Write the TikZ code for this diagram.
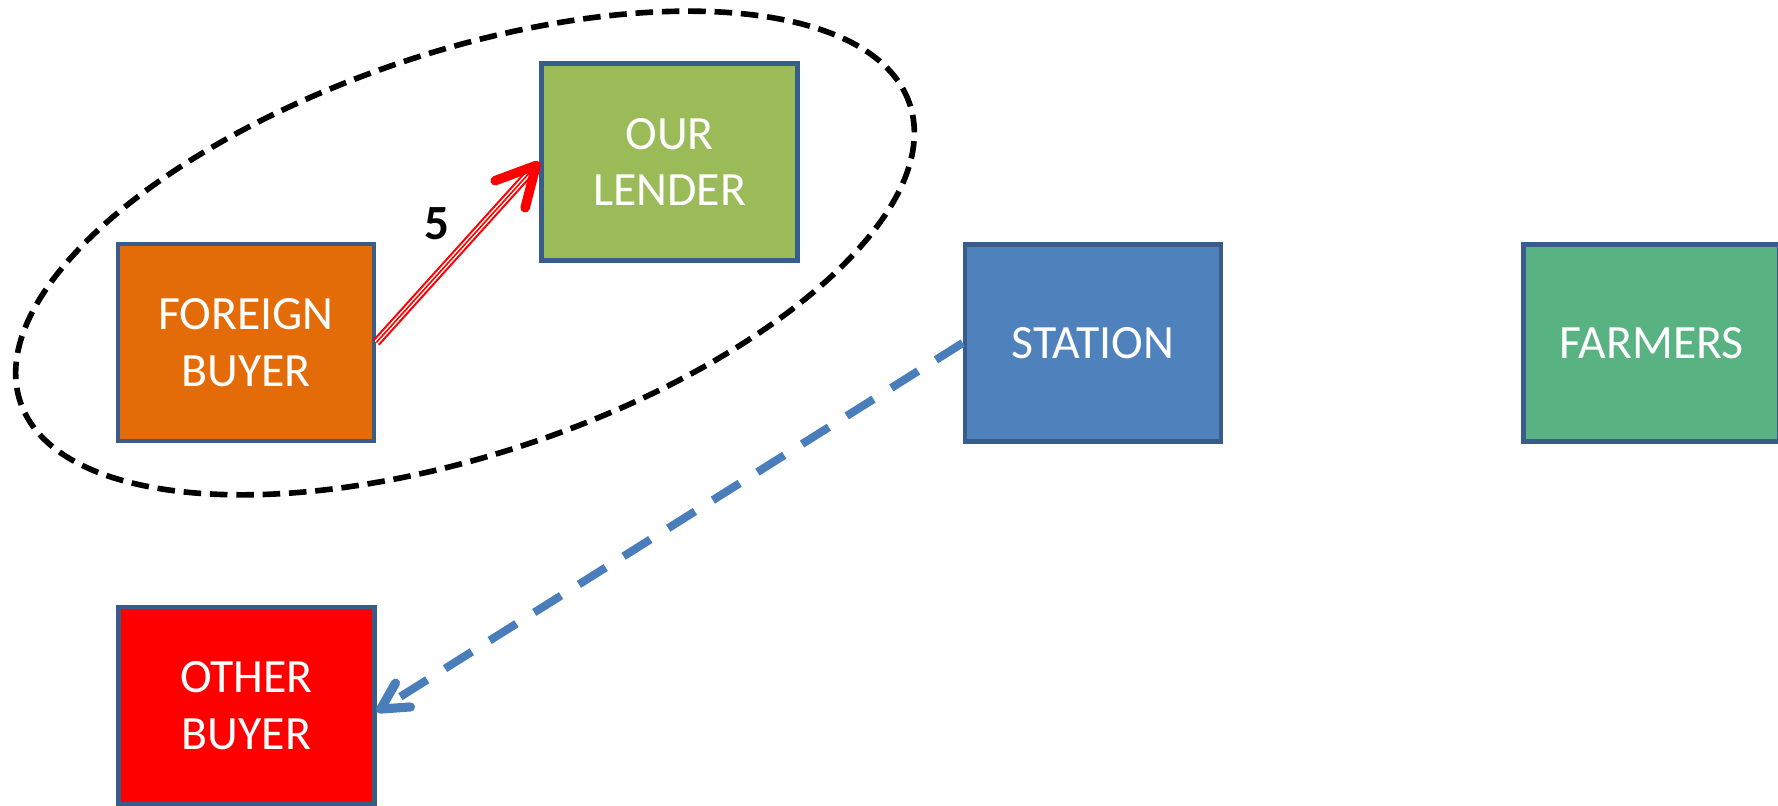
\documentclass[tikz,border=0pt]{standalone}
\usepackage{fontspec}
\setmainfont{Carlito}
\usepackage{tikz}
\usetikzlibrary{arrows.meta}
\usetikzlibrary{calc}
\definecolor{edgeblue}{HTML}{385D8A}
\definecolor{buyerorange}{HTML}{E36C09}
\definecolor{lendergreen}{HTML}{9BBB59}
\definecolor{stationblue}{HTML}{4F81BD}
\definecolor{farmgreen}{HTML}{58B282}
\definecolor{flowblue}{HTML}{4A7EBB}

\begin{document}
\begin{tikzpicture}[
    box/.style={draw=edgeblue,line width=1.3pt,minimum width=2.56cm,minimum height=1.97cm,
        text=white,align=center,font=\fontsize{13.6}{16.2}\selectfont},
    lbl/.style={font=\fontsize{14}{16}\selectfont\bfseries}]
            \useasboundingbox (0,0) rectangle (17.78,8.05);
            \clip (0,0) rectangle (17.78,8.05);
            \node[box,fill=buyerorange] (FB) at (2.46,4.625) {FOREIGN\\BUYER};
            \node[box,fill=lendergreen] (OL) at (6.695,6.43) {OUR\\LENDER};
            \node[box,fill=stationblue] (ST) at (10.93,4.62) {STATION};
            \node[box,fill=farmgreen] (FA) at (16.515,4.62) {FARMERS};
            \node[box,fill=red] (OB) at (2.465,0.995) {OTHER\\BUYER};
            \draw[black,line width=1.6pt,dash pattern=on 5pt off 2.5pt] (4.65,5.52) ellipse[x radius=4.69,y radius=2.01,rotate=18.5];
            \draw[red,line width=0.6pt,double=white,double distance=1.3pt,shorten >=3pt] (FB.east) -- (OL.west);
            \draw[red,line width=0.45pt,-{Straight Barb[length=11pt,width=11.5pt,line width=2.7pt,round]}] (FB.east) -- (OL.west) node[lbl,black,midway,xshift=-0.21cm,yshift=0.29cm]{5};
            \draw[flowblue,line width=2.3pt,dash pattern=on 9pt off 6pt,-{Straight Barb[length=7.5pt,width=8pt,line width=2.6pt,round]}] (ST.west) -- ($(OB.east)+(0,-0.06)$);
        \end{tikzpicture}
\end{document}
